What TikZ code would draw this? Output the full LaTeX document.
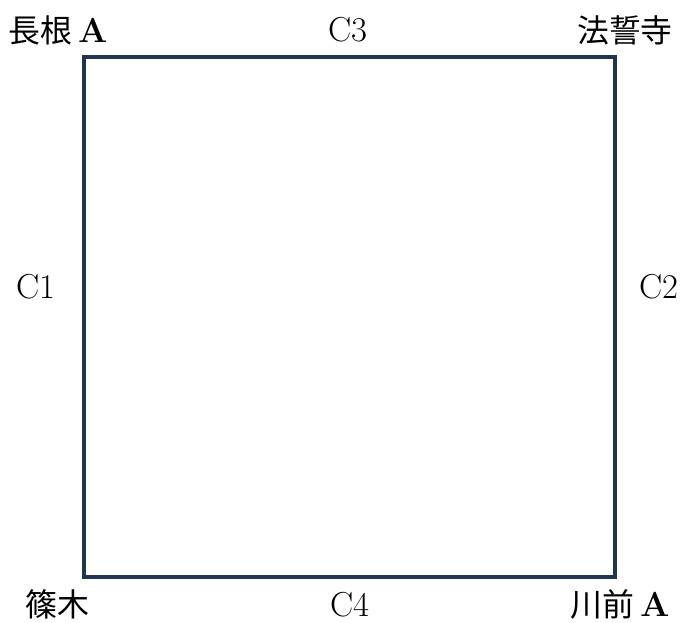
\documentclass[tikz,border=0pt]{standalone}
\usepackage{fontspec}
\newfontfamily\cjk[Scale=0.92]{Noto Sans CJK JP}
\definecolor{edgecol}{HTML}{1F3550}
\tikzset{lbl/.style={font=\fontsize{26}{30}\selectfont,inner sep=0pt}}
\begin{document}
\begin{tikzpicture}[x=0.75pt,y=0.75pt,yscale=-1,xscale=1]
            \useasboundingbox (0,0) rectangle (684,622);
            \coordinate (NW) at (84,57);
            \coordinate (NE) at (615,57);
            \coordinate (SE) at (615,577);
            \coordinate (SW) at (84,577);
            \draw[edgecol,line width=3pt] (NW) -- (NE) -- (SE) -- (SW) -- cycle;
            \node[lbl] (nagane) at (58,30) {{\cjk 長根}\,\textbf{A}};
            \node[lbl] (hosei) at (625,30) {\cjk 法誓寺};
            \node[lbl] (shinoki) at (57,604) {\cjk 篠木};
            \node[lbl] (kawamae) at (620,604) {{\cjk 川前}\,\textbf{A}};
            \node[lbl] (c1) at (36,287) {C1};
            \node[lbl] (c2) at (659,287) {C2};
            \node[lbl] (c3) at (348,30) {C3};
            \node[lbl] (c4) at (350,605) {C4};
        \end{tikzpicture}
\end{document}
